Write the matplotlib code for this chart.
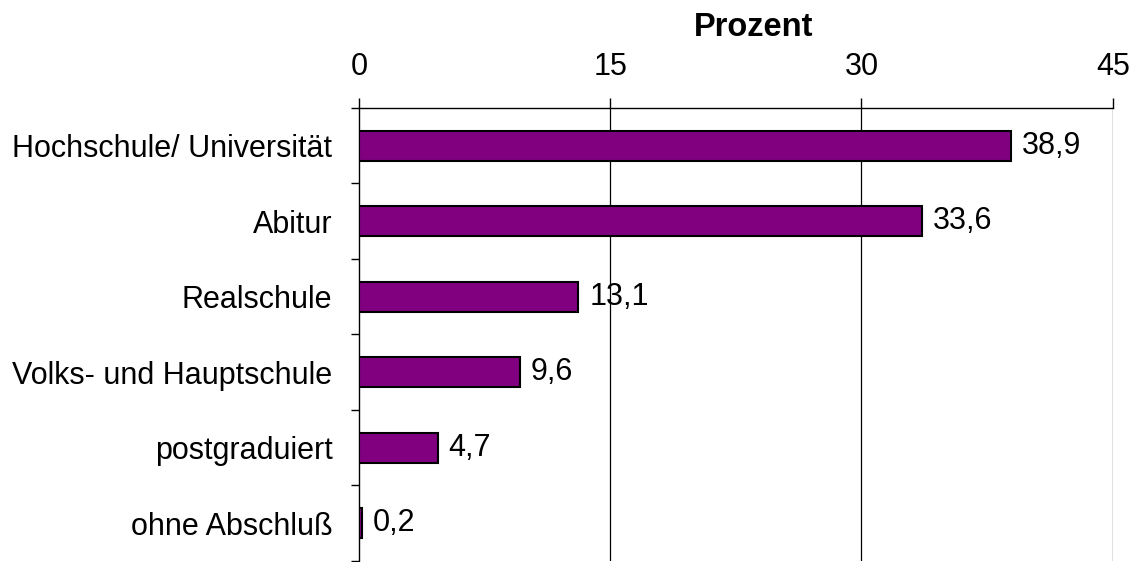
import numpy as np
import matplotlib
matplotlib.use("Agg")
import matplotlib.pyplot as plt
from matplotlib.ticker import FixedLocator

plt.rcParams["font.family"] = ["Liberation Sans", "DejaVu Sans"]

categories = ["Hochschule/ Universität", "Abitur", "Realschule",
              "Volks- und Hauptschule", "postgraduiert", "ohne Abschluß"]
values = [38.9, 33.6, 13.1, 9.6, 4.7, 0.2]
x_ticks = [0, 15, 30, 45]

fig = plt.figure(figsize=(11.32, 5.62), dpi=100)
ax = fig.add_axes([0.317, 0.002, 0.666, 0.806])

y = np.arange(len(categories))
ax.barh(y, values, height=0.4, color="#800080", edgecolor="black", linewidth=1.5, zorder=3)

for yi, v in zip(y, values):
    ax.text(v + 0.65, yi, f"{v:.1f}".replace(".", ","), va="center", ha="left",
            fontsize=22, zorder=4)

ax.set_xlim(0, 45)
ax.set_ylim(len(categories) - 0.5, -0.5)

ax.xaxis.tick_top()
ax.xaxis.set_label_position("top")
ax.set_xticks(x_ticks)
ax.set_xticklabels([str(t) for t in x_ticks], fontsize=22)
ax.set_xlabel("Prozent", fontsize=23.5, fontweight="bold")
ax.xaxis.set_label_coords(0.523, 1.159)
ax.xaxis.label.set_va("baseline")
ax.tick_params(axis="x", direction="out", length=7, width=1, pad=12)
for t in x_ticks[1:]:
    ax.axvline(t, color="black", linewidth=0.9, zorder=1)

ax.set_yticks(y)
ax.set_yticklabels(categories, fontsize=22)
ax.yaxis.set_minor_locator(FixedLocator(np.arange(-0.5, len(categories), 1.0)))
ax.tick_params(axis="y", which="major", length=0, pad=19)
ax.tick_params(axis="y", which="minor", length=6, width=1, direction="out")

ax.spines["right"].set_visible(False)
ax.spines["bottom"].set_visible(False)
ax.spines["top"].set_linewidth(1)
ax.spines["left"].set_linewidth(1)

fig.savefig("out.png", dpi=100)
